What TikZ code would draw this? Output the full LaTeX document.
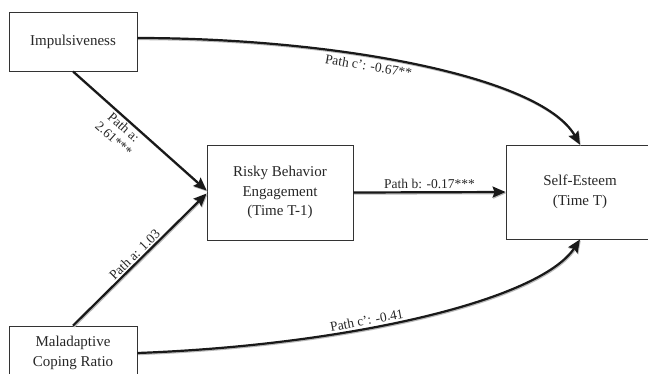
\documentclass[tikz,border=0pt]{standalone}
\usepackage{fontspec}
\setmainfont{Liberation Serif}
\usetikzlibrary{arrows.meta}
\begin{document}
\begin{tikzpicture}[x=1pt,y=-1pt,
  box/.style={draw=black!80, line width=0.8pt, rectangle, align=center,
    font=\fontsize{15}{19.5}\selectfont, text=black!85, inner sep=0pt},
  lab/.style={font=\fontsize{13.5}{15}\selectfont, text=black!85, inner sep=2pt},
  conn/.style={line width=2.2pt, draw=black!90,
    -{Stealth[length=13pt,width=11pt,inset=2pt]},
    preaction={draw=gray!55, line width=2.2pt,
      transform canvas={shift={(0.8pt,-1.1pt)}}}}]
\useasboundingbox (0,0) rectangle (648,373);
\node[box, minimum width=128pt, minimum height=59pt] (imp) at (73,41.5) {Impulsiveness};
\node[box, minimum width=128pt, minimum height=54pt] (mal) at (73,353) {Maladaptive\\Coping Ratio};
\node[box, minimum width=146pt, minimum height=95pt] (risk) at (280,192.5) {Risky Behavior\\Engagement\\(Time T-1)};
\node[box, minimum width=148pt, minimum height=94pt] (self) at (580,192) {Self-Esteem\\(Time T)};

\draw[conn] (imp.south) -- ([yshift=2pt]risk.west)
  node[lab, pos=0.42, sloped, below, align=center] {Path a:\\2.61***};
\draw[conn] (mal.north) -- ([yshift=-1pt]risk.west)
  node[lab, pos=0.5, sloped, above, inner sep=1.5pt] {Path a: 1.03};
\draw[conn] (risk.east) -- (self.west)
  node[lab, midway, above] {Path b: -0.17***};
\draw[conn] ([yshift=3.5pt]imp.east) .. controls (330,38) and (540,75) .. (self.north)
  node[lab, pos=0.41, sloped, below, inner sep=4pt] {Path c': -0.67**};
\draw[conn] (mal.east) .. controls (350,345) and (540,300) .. (self.south)
  node[lab, pos=0.39, sloped, above, inner sep=2pt] {Path c': -0.41};
\end{tikzpicture}
\end{document}
